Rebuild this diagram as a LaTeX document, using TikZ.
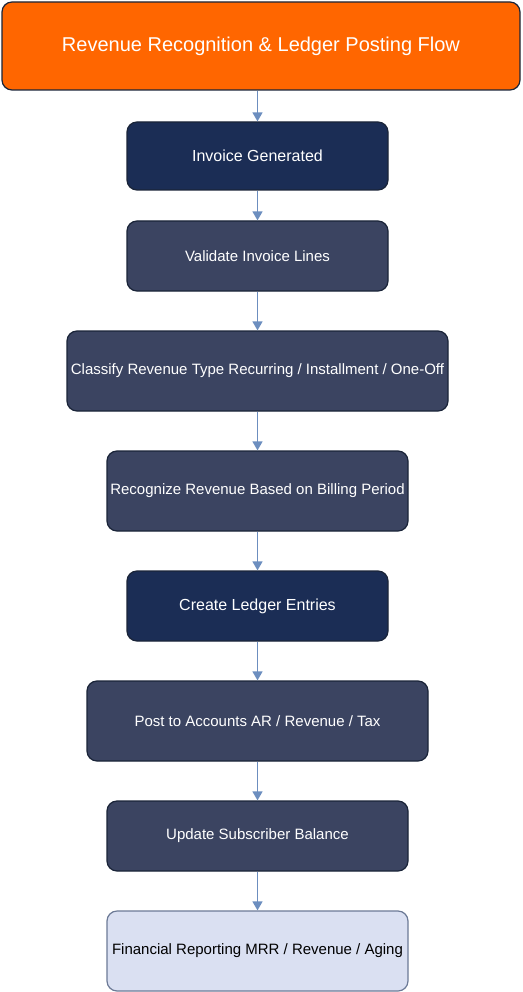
\documentclass[tikz,border=0pt]{standalone}
\usepackage{fontspec}
\setmainfont{Liberation Sans}
\usetikzlibrary{arrows.meta}
\definecolor{orangeF}{HTML}{FF6600}
\definecolor{navy}{HTML}{1B2D55}
\definecolor{slate}{HTML}{3B4461}
\definecolor{pale}{HTML}{DAE0F2}
\definecolor{edge}{HTML}{1A2438}
\definecolor{paleedge}{HTML}{6C7A96}
\definecolor{arrowc}{HTML}{6C8EBF}
\tikzset{
  box/.style={draw=edge, line width=1.2pt, rounded corners=10pt, inner sep=0pt, text=white, align=center},
  titlebox/.style={box, fill=orangeF, font=\fontsize{20}{24}\selectfont},
  navybox/.style={box, fill=navy, font=\fontsize{16}{19}\selectfont},
  slatebox/.style={box, fill=slate, font=\fontsize{15}{18}\selectfont},
  palebox/.style={box, fill=pale, draw=paleedge, text=black, font=\fontsize{15}{18}\selectfont},
  flow/.style={draw=arrowc, line width=1.4pt, -{Triangle[length=9pt,width=10pt]}},
}
\begin{document}
\begin{tikzpicture}[x=1pt,y=-1pt]
\useasboundingbox (0,0) rectangle (522,992);
\node[titlebox, minimum width=518pt, minimum height=88pt] (t) at (261,46) {Revenue Recognition \& Ledger Posting Flow};
\node[navybox, minimum width=261pt, minimum height=68pt] (a) at (257.5,156) {Invoice Generated};
\node[slatebox, minimum width=261pt, minimum height=70pt] (b) at (257.5,256) {Validate Invoice Lines};
\node[slatebox, minimum width=381pt, minimum height=80pt] (c) at (257.5,371) {Classify Revenue Type Recurring / Installment / One-Off};
\node[slatebox, minimum width=301pt, minimum height=80pt] (d) at (257.5,491) {Recognize Revenue Based on Billing Period};
\node[navybox, minimum width=261pt, minimum height=70pt] (e) at (257.5,606) {Create Ledger Entries};
\node[slatebox, minimum width=341pt, minimum height=80pt] (f) at (257.5,721) {Post to Accounts AR / Revenue / Tax};
\node[slatebox, minimum width=301pt, minimum height=70pt] (g) at (257.5,836) {Update Subscriber Balance};
\node[palebox, minimum width=301pt, minimum height=80pt] (h) at (257.5,951) {Financial Reporting MRR / Revenue / Aging};
\draw[flow] (t.south -| a.north) -- (a.north);
\draw[flow] (a) -- (b);
\draw[flow] (b) -- (c);
\draw[flow] (c) -- (d);
\draw[flow] (d) -- (e);
\draw[flow] (e) -- (f);
\draw[flow] (f) -- (g);
\draw[flow] (g) -- (h);
\end{tikzpicture}
\end{document}
